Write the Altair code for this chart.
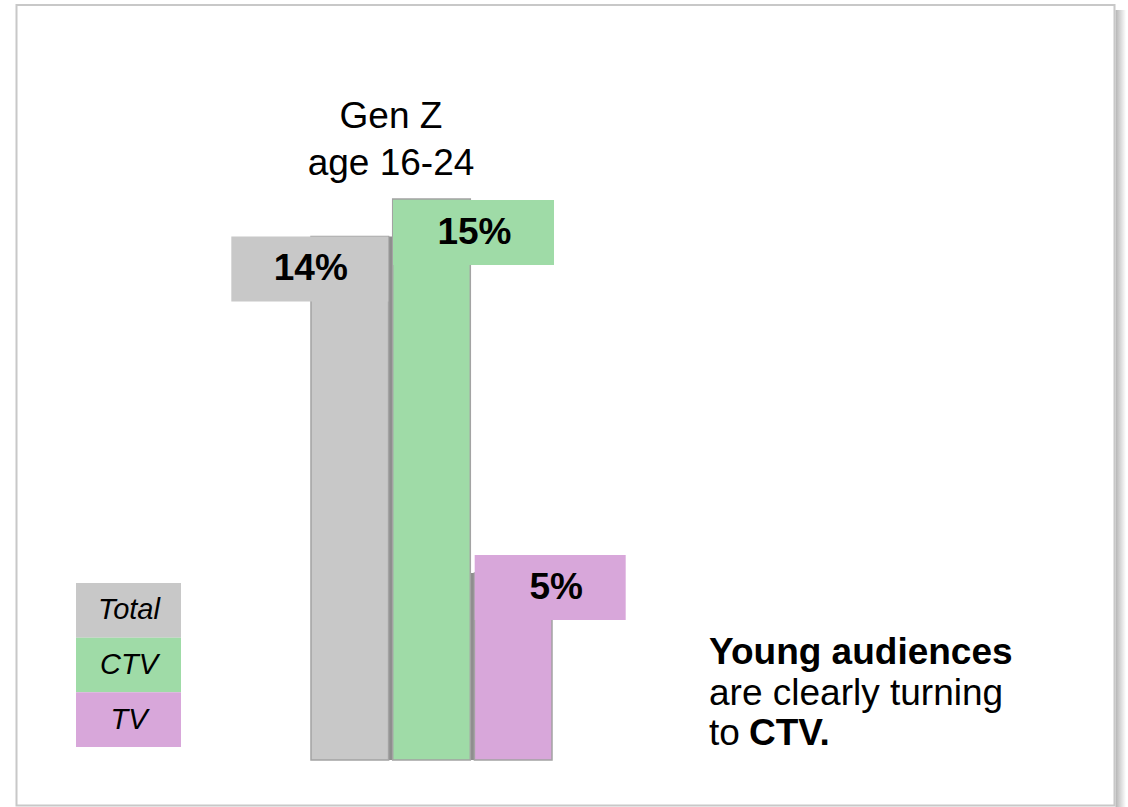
import altair as alt
import pandas as pd

# ---- data ----
categories = ["Total", "CTV", "TV"]
values = [14, 15, 5]
value_labels = ["14%", "15%", "5%"]
colors = ["#c8c8c8", "#9fdba7", "#d8a7da"]

header_lines = ["Gen Z", "age 16-24"]
takeaway_line1 = "Young audiences"
takeaway_line2 = "are clearly turning"
takeaway_line3a = "to"
takeaway_line3b = "CTV."

# ---- styles (per category) ----
box_width = [157, 161, 151]
box_dx = [-40, 42, 37]
box_top = [0, 1, -18]
box_bottom = [65, 66, 47]
text_dx = [-39, 43, 43]
text_dy = [33, 34, 15]
shadow_dx = [4, 0, -4]

FONT = "Liberation Sans"
W, H = 1128, 807

df = pd.DataFrame({"category": categories, "value": values, "label": value_labels})

x_scale = alt.Scale(domain=categories, range=[311, 552], paddingInner=0.05, paddingOuter=0)
y_scale = alt.Scale(domain=[0, 15], range=[760, 199], nice=False, zero=True)
color_scale = alt.Scale(domain=categories, range=colors)

X = alt.X("category:N", scale=x_scale, axis=None, sort=categories)
Y = alt.Y("value:Q", scale=y_scale, axis=None)

base = alt.Chart(df)

layers = []
# shadows
for i, c in enumerate(categories):
    if shadow_dx[i] == 0:
        continue
    layers.append(
        base.transform_filter(alt.datum.category == c)
        .mark_bar(color="#8e8e8e", xOffset=shadow_dx[i], stroke=None)
        .encode(x=X, y=Y)
    )
# bars
layers.append(
    base.mark_bar(stroke="#a3a3a3", strokeWidth=1.5)
    .encode(x=X, y=Y, color=alt.Color("category:N", scale=color_scale, legend=None))
)
# label boxes + texts
for i, c in enumerate(categories):
    sub = base.transform_filter(alt.datum.category == c)
    layers.append(
        sub.mark_bar(width=box_width[i], xOffset=box_dx[i], yOffset=box_top[i],
                     y2Offset=box_bottom[i], color=colors[i], stroke=None)
        .encode(x=X, y=Y, y2="value:Q")
    )
    layers.append(
        sub.mark_text(font=FONT, fontSize=37, fontWeight="bold", color="#000000",
                      dx=text_dx[i], dy=text_dy[i], baseline="middle", align="center")
        .encode(x=X, y=Y, text="label:N")
    )

# legend
leg_y = alt.Y("category:N", sort=categories, axis=None,
              scale=alt.Scale(domain=categories, range=[583, 747], paddingInner=0, paddingOuter=0))
layers.append(
    base.mark_rect(stroke=None)
    .encode(x=alt.value(76), x2=alt.value(181), y=leg_y,
            color=alt.Color("category:N", scale=color_scale, legend=None))
)
layers.append(
    base.mark_text(font=FONT, fontSize=29, fontStyle="italic", color="#000000",
                   baseline="middle", align="center")
    .encode(x=alt.value(129), y=leg_y, text="category:N")
)

one = alt.Chart(pd.DataFrame({"k": [0]}))
# header
layers.append(
    one.mark_text(text=header_lines, font=FONT, fontSize=37, lineHeight=47,
                  baseline="alphabetic", align="center", color="#000000")
    .encode(x=alt.value(391), y=alt.value(128))
)
# takeaway
layers.append(
    one.mark_text(text=takeaway_line1, font=FONT, fontSize=37, fontWeight="bold",
                  baseline="alphabetic", align="left", color="#000000")
    .encode(x=alt.value(709), y=alt.value(664))
)
layers.append(
    one.mark_text(text=takeaway_line2, font=FONT, fontSize=37,
                  baseline="alphabetic", align="left", color="#000000")
    .encode(x=alt.value(709), y=alt.value(705))
)
layers.append(
    one.mark_text(text=takeaway_line3a, font=FONT, fontSize=37,
                  baseline="alphabetic", align="left", color="#000000")
    .encode(x=alt.value(709), y=alt.value(745))
)
layers.append(
    one.mark_text(text=takeaway_line3b, font=FONT, fontSize=37, fontWeight="bold",
                  baseline="alphabetic", align="left", color="#000000")
    .encode(x=alt.value(749), y=alt.value(745))
)

# frame + shadow
layers.append(
    one.mark_rect(
        color=alt.Gradient(gradient="linear",
                           stops=[alt.GradientStop(color="#b4b4b4", offset=0),
                                  alt.GradientStop(color="#ffffff", offset=1)],
                           x1=0, x2=1, y1=0, y2=0))
    .encode(x=alt.value(1115.5), x2=alt.value(1126), y=alt.value(10), y2=alt.value(807))
)
layers.append(
    one.mark_rect(fillOpacity=0, stroke="#c8c8c8", strokeWidth=2)
    .encode(x=alt.value(16.5), x2=alt.value(1114.5), y=alt.value(5), y2=alt.value(805.5))
)

chart = (
    alt.layer(*layers)
    .resolve_scale(y="independent")
    .properties(width=W, height=H, autosize="none", padding=0, background="#ffffff")
    .configure_view(stroke=None)
)

chart.save("out.html", embed_options={"renderer": "svg", "actions": False})
